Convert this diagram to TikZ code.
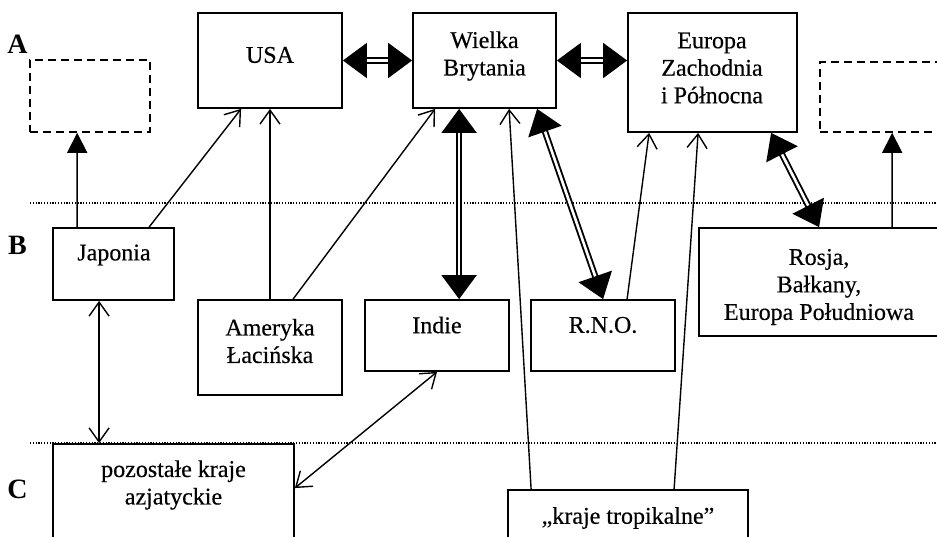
\documentclass[tikz,border=0pt]{standalone}
\usepackage{fontspec}
\setmainfont{Liberation Serif}[FakeBold=0.4]
\newfontfamily\lblfont{Liberation Serif}
\usetikzlibrary{arrows.meta,fit}

\begin{document}
\begin{tikzpicture}[x=1pt,y=-1pt,
  box/.style={draw, line width=1.8pt, inner sep=0pt},
  ghost/.style={draw, line width=1.6pt, dash pattern=on 8pt off 5pt, inner sep=0pt},
  txt/.style={align=center, inner sep=0pt, font=\fontsize{24}{27.5}\selectfont},
  lvl/.style={inner sep=0pt, font=\lblfont\bfseries\fontsize{28}{30}\selectfont},
  sep/.style={line width=1.2pt, dash pattern=on 1.2pt off 1.6pt},
  barb/.tip={Straight Barb[length=14pt,width=20pt]},
  flow/.style={line width=1.4pt, -barb},
  flowboth/.style={line width=1.4pt, barb-barb},
  lift/.style={line width=1.4pt, -{Triangle[length=20pt,width=20pt]}},
  tie/.style={double, line width=1.9pt, double distance=2.6pt,
    {Triangle[length=24pt,width=35pt]}-{Triangle[length=24pt,width=35pt]}},
]
\useasboundingbox (0,0) rectangle (937,537);
\clip (0,0) rectangle (937,537);

% level separators
\draw[sep] (30,203) coordinate (s1a) -- (937,203) coordinate (s1b);
\draw[sep] (30,443) coordinate (s2a) -- (937,443) coordinate (s2b);

% level letters
\node[lvl] (lA) at (17.5,44.5) {A};
\node[lvl] (lB) at (17.5,245) {B};
\node[lvl] (lC) at (17.5,489) {C};

% level A
\node[ghost, fit={(30,60) (150,132)}] (dashL) {};
\node[box, fit={(198,13) (342,108)}] (usa) {};
\node[box, fit={(413,13) (556,108)}] (wb) {};
\node[box, fit={(628,13) (797,132)}] (eur) {};
\node[ghost, fit={(820,62) (970,132)}] (dashR) {};

% level B
\node[box, fit={(53,228) (174,300)}] (jap) {};
\node[box, fit={(198,300) (342,395)}] (ame) {};
\node[box, fit={(365,300) (509,371)}] (ind) {};
\node[box, fit={(531,300) (675,371)}] (rno) {};
\node[box, fit={(699,228) (970,336)}] (ros) {};

% level C
\node[box, fit={(53,444) (294,570)}] (poz) {};
\node[box, fit={(508,490) (748,570)}] (tro) {};

% labels
\node[txt] (tusa) at (270,55) {USA};
\node[txt] (twb) at (484.5,56) {Wielka\\Brytania};
\node[txt] (teur) at (712,68) {Europa\\Zachodnia\\i Północna};
\node[txt] (tjap) at (114,255) {Japonia};
\node[txt] (tame) at (270,341) {Ameryka\\Łacińska};
\node[txt] (tind) at (437,325) {Indie};
\node[txt] (trno) at (603,325) {R.N.O.};
\node[txt] (tros) at (819,287) {Rosja,\\Bałkany,\\Europa Południowa};
\node[txt] (tpoz) at (173.5,485) {pozostałe kraje\\azjatyckie};
\node[txt] (ttro) at (628,518) {„kraje tropikalne”};

% strong two-way ties
\draw[tie] (usa.east) -- (wb.west);
\draw[tie] (wb.east) -- (wb.east -| eur.west);
\draw[tie] ([xshift=47pt]wb.south west) -- ([xshift=95pt]ind.north west);
\draw[tie] ([xshift=125pt]wb.south west) -- ([xshift=73pt]rno.north west);
\draw[tie] ([xshift=144pt]eur.south west) -- ([xshift=121pt]ros.north west);

% rising to level A
\draw[lift] ([xshift=25pt]jap.north west) -- ([xshift=48pt]dashL.south west);
\draw[lift] ([xshift=194pt]ros.north west) -- ([xshift=73pt]dashR.south west);

% one-way links
\draw[flow] ([xshift=97pt]jap.north west) -- ([xshift=44pt]usa.south west);
\draw[flow] (ame.north) -- (usa.south);
\draw[flow] ([xshift=96pt]ame.north west) -- ([xshift=23pt]wb.south west);
\draw[flow] ([xshift=97pt]rno.north west) -- ([xshift=22pt]eur.south west);
\draw[flow] ([xshift=24pt]tro.north west) -- ([xshift=97pt]wb.south west);
\draw[flow] ([xshift=167pt]tro.north west) -- ([xshift=71pt]eur.south west);

% two-way links
\draw[flowboth] ([xshift=47pt]jap.south west) -- ([xshift=47pt]poz.north west);
\draw[flowboth] (ind.south) -- ([yshift=-45pt]poz.north east);
\end{tikzpicture}
\end{document}
